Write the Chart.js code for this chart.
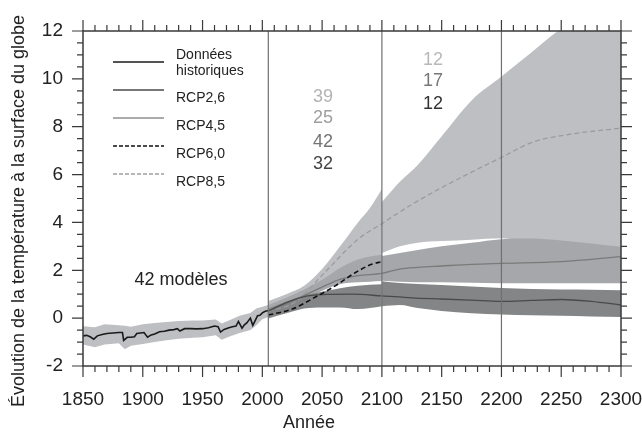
<!DOCTYPE html>
<html>
<head>
<meta charset="utf-8">
<script src="https://cdn.jsdelivr.net/npm/chart.js@4.4.0/dist/chart.umd.min.js"></script>
<style>
  html, body { margin: 0; padding: 0; background: #fff; }
</style>
</head>
<body>
<canvas id="chart" width="642" height="432"></canvas>
<script>
// historique (1850-2005)
const histYears = [1850,1853,1856,1859,1862,1866,1870,1875,1880,1883,1884,1887,1890,1893,1895,1898,1901,1904,1907,1910,1914,1918,1922,1926,1929,1931,1935,1940,1945,1950,1955,1960,1963,1965,1968,1972,1975,1978,1980,1983,1985,1987,1990,1992,1994,1996,1998,2000,2002,2005];
const histMean = [-0.74,-0.72,-0.78,-0.88,-0.74,-0.68,-0.64,-0.62,-0.6,-0.6,-0.93,-0.8,-0.8,-0.78,-0.64,-0.62,-0.6,-0.8,-0.7,-0.66,-0.57,-0.55,-0.5,-0.48,-0.44,-0.54,-0.44,-0.44,-0.45,-0.44,-0.4,-0.33,-0.36,-0.58,-0.47,-0.4,-0.36,-0.33,-0.14,-0.42,-0.28,-0.2,0.0,-0.3,-0.1,0.1,0.12,0.22,0.28,0.32];
const histBandYears = [1850,1860,1868,1880,1885,1890,1900,1910,1920,1930,1942,1950,1961,1966,1972,1981,1990,1995,2000,2005];
const histUpper = [-0.34,-0.38,-0.25,-0.3,-0.32,-0.36,-0.26,-0.2,-0.16,-0.12,-0.1,-0.1,-0.06,-0.22,-0.1,0.1,0.22,0.4,0.48,0.55];
const histLower = [-1.1,-1.22,-1.1,-1.05,-1.3,-1.15,-1.08,-1.0,-0.92,-0.86,-0.82,-0.8,-0.72,-0.9,-0.78,-0.62,-0.5,-0.3,-0.05,0.05];

// 2005-2100 (39 / 25 / 42 / 32 modeles)
const nearYears = [2005, 2020, 2035, 2050, 2065, 2080, 2090, 2100];
const rcp85NearUpper = [0.72, 1.0, 1.35, 2.05, 3.0, 4.0, 4.6, 5.4];
const rcp85NearLower = [0.05, 0.55, 0.9, 1.25, 1.5, 1.6, 1.62, 1.65];
const rcp45NearUpper = [0.55, 0.85, 1.2, 1.6, 2.1, 2.45, 2.58, 2.65];
const rcp45NearLower = [0.0, 0.45, 0.8, 1.15, 1.42, 1.5, 1.52, 1.55];
const rcp26NearUpper = [0.4, 0.7, 0.95, 1.1, 1.25, 1.35, 1.4, 1.42];
const rcp26NearLower = [-0.02, 0.2, 0.4, 0.45, 0.45, 0.38, 0.42, 0.5];

// 2100-2300 (12 / 17 / 12 modeles)
const farYears = [2100, 2115, 2130, 2150, 2175, 2200, 2225, 2250, 2275, 2300];
const rcp85FarUpper = [4.85, 5.7, 6.4, 7.6, 9.1, 10.1, 11.1, 12.1, 12.8, 13.3];
const rcp85FarLower = [2.72, 3.0, 3.15, 3.22, 3.28, 3.34, 3.2, 3.1, 3.0, 2.9];
const rcp45FarUpper = [2.6, 2.72, 2.85, 3.0, 3.15, 3.3, 3.33, 3.25, 3.12, 2.98];
const rcp45FarLower = [1.56, 1.52, 1.5, 1.5, 1.48, 1.46, 1.46, 1.46, 1.46, 1.46];
const rcp26FarUpper = [1.54, 1.47, 1.43, 1.38, 1.32, 1.26, 1.22, 1.2, 1.19, 1.17];
const rcp26FarLower = [0.5, 0.55, 0.42, 0.3, 0.2, 0.15, 0.12, 0.1, 0.07, 0.05];

// moyennes multi-modeles
const rcp26Years = [2005, 2020, 2035, 2050, 2075, 2100, 2125, 2150, 2175, 2200, 2225, 2250, 2275, 2300];
const rcp26Mean = [0.3, 0.65, 0.9, 0.98, 1.0, 0.93, 0.85, 0.8, 0.75, 0.7, 0.74, 0.78, 0.7, 0.55];
const rcp45Years = [2005, 2020, 2035, 2050, 2065, 2080, 2100, 2115, 2130, 2150, 2175, 2200, 2250, 2300];
const rcp45Mean = [0.3, 0.6, 0.95, 1.3, 1.62, 1.78, 1.87, 2.05, 2.12, 2.18, 2.25, 2.29, 2.36, 2.57];
const rcp60Years = [2005, 2025, 2044, 2061, 2078, 2092, 2100];
const rcp60Mean = [0.13, 0.38, 0.87, 1.35, 1.91, 2.26, 2.36];
const rcp85Years = [2005, 2027, 2053, 2080, 2100, 2125, 2148, 2175, 2200, 2226, 2254, 2300];
const rcp85Mean = [0.3, 0.66, 1.95, 3.3, 3.95, 4.75, 5.4, 6.1, 6.72, 7.35, 7.66, 7.94];

const dividerYears = [2005, 2100, 2200];
const legendLabels = [['Données', 'historiques'], ['RCP2,6'], ['RCP4,5'], ['RCP6,0'], ['RCP8,5']];
const nearCounts = ['39', '25', '42', '32'];
const farCounts = ['12', '17', '12'];

const FONT = 'Liberation Sans, Arial, sans-serif';
const LIGHT = '#bebfc2', MEDIUM = '#a6a7aa', DARK = '#848587';

const pts = (xs, ys) => xs.map((x, i) => ({ x, y: ys[i] }));

function band(years, lower, upper, color, order, mode) {
  const base = { showLine: true, pointRadius: 0, borderWidth: 1, borderColor: 'rgba(0,0,0,0)', order, cubicInterpolationMode: mode, tension: 0 };
  return [
    Object.assign({}, base, { data: pts(years, lower), fill: false }),
    Object.assign({}, base, { data: pts(years, upper), fill: '-1', backgroundColor: color })
  ];
}

function line(years, values, color, width, dash, order, mode) {
  return { data: pts(years, values), showLine: true, pointRadius: 0, borderColor: color, borderWidth: width,
    borderDash: dash, fill: false, order, cubicInterpolationMode: mode, tension: 0 };
}

const datasets = [].concat(
  band(histBandYears, histLower, histUpper, LIGHT, 20, 'default'),
  band(nearYears, rcp85NearLower, rcp85NearUpper, LIGHT, 19, 'monotone'),
  band(farYears, rcp85FarLower, rcp85FarUpper, LIGHT, 19, 'monotone'),
  band(nearYears, rcp45NearLower, rcp45NearUpper, MEDIUM, 18, 'monotone'),
  band(farYears, rcp45FarLower, rcp45FarUpper, MEDIUM, 18, 'monotone'),
  band(nearYears, rcp26NearLower, rcp26NearUpper, DARK, 17, 'monotone'),
  band(farYears, rcp26FarLower, rcp26FarUpper, DARK, 17, 'monotone'),
  [
    line(rcp85Years, rcp85Mean, '#9c9c9c', 1.3, [5, 3], 4, 'monotone'),
    line(rcp45Years, rcp45Mean, '#7a7a7a', 1.3, [], 3, 'monotone'),
    line(rcp26Years, rcp26Mean, '#4a4a4a', 1.3, [], 2, 'monotone'),
    line(rcp60Years, rcp60Mean, '#111', 1.6, [5, 3], 1, 'monotone'),
    line(histYears, histMean, '#1a1a1a', 1.6, [], 0, 'default')
  ]
);

// cadre, graduations, separateurs
const framePlugin = {
  id: 'framePlugin',
  afterDatasetsDraw(chart) {
    const { ctx, chartArea: a, scales: { x, y } } = chart;
    ctx.save();
    ctx.strokeStyle = '#707070';
    ctx.lineWidth = 1.2;
    dividerYears.forEach(yr => {
      const px = x.getPixelForValue(yr);
      ctx.beginPath(); ctx.moveTo(px, a.top); ctx.lineTo(px, a.bottom); ctx.stroke();
    });
    ctx.strokeStyle = '#3a3a3a';
    ctx.lineWidth = 1.5;
    ctx.strokeRect(a.left, a.top, a.right - a.left, a.bottom - a.top);
    ctx.lineWidth = 1.2;
    ctx.beginPath();
    for (let v = 1850; v <= 2300; v += 10) {
      const px = x.getPixelForValue(v);
      const len = v % 50 === 0 ? 11 : 6;
      ctx.moveTo(px, a.bottom); ctx.lineTo(px, a.bottom + len);
      ctx.moveTo(px, a.top); ctx.lineTo(px, a.top - len);
    }
    for (let v = -2; v <= 12; v += 0.5) {
      const py = y.getPixelForValue(v);
      const len = v % 2 === 0 ? 11 : 6;
      ctx.moveTo(a.left, py); ctx.lineTo(a.left - len, py);
      ctx.moveTo(a.right, py); ctx.lineTo(a.right + len, py);
    }
    ctx.stroke();
    ctx.restore();
  },
  afterDraw(chart) {
    const { ctx } = chart;
    ctx.save();
    // legende
    const styles = [
      { c: '#1a1a1a', w: 1.6, d: [] },
      { c: '#4a4a4a', w: 1.3, d: [] },
      { c: '#8f8f8f', w: 1.3, d: [] },
      { c: '#111', w: 1.6, d: [4, 2] },
      { c: '#a0a0a0', w: 1.3, d: [4, 2] }
    ];
    const lineY = [62, 90, 118, 146, 174];
    ctx.font = '14px ' + FONT;
    ctx.textBaseline = 'middle';
    ctx.textAlign = 'left';
    legendLabels.forEach((lab, i) => {
      const s = styles[i];
      ctx.strokeStyle = s.c; ctx.lineWidth = s.w; ctx.setLineDash(s.d);
      ctx.beginPath(); ctx.moveTo(113, lineY[i]); ctx.lineTo(164, lineY[i]); ctx.stroke();
      ctx.fillStyle = '#222';
      if (lab.length === 2) {
        ctx.fillText(lab[0], 176, 55);
        ctx.fillText(lab[1], 176, 71);
      } else {
        ctx.fillText(lab[0], 176, lineY[i] + 8);
      }
    });
    ctx.setLineDash([]);
    // nombre de modeles
    ctx.font = '18px ' + FONT;
    ctx.textAlign = 'center';
    const nearColors = ['#b3b3b3', '#9e9e9e', '#747474', '#444'];
    const nearY = [97, 118, 142, 164];
    nearCounts.forEach((t, i) => { ctx.fillStyle = nearColors[i]; ctx.fillText(t, 323, nearY[i]); });
    const farColors = ['#b8b8b8', '#777', '#333'];
    const farY = [60, 81, 104];
    farCounts.forEach((t, i) => { ctx.fillStyle = farColors[i]; ctx.fillText(t, 433, farY[i]); });
    ctx.fillStyle = '#222';
    ctx.fillText('42 modèles', 181, 280);
    // titres des axes
    ctx.fillText('Année', 309, 423);
    ctx.translate(23.5, 211);
    ctx.rotate(-Math.PI / 2);
    ctx.textBaseline = 'alphabetic';
    ctx.fillText('Évolution de la température à la surface du globe', 0, 0);
    ctx.restore();
  }
};

new Chart(document.getElementById('chart'), {
  type: 'scatter',
  data: { datasets },
  options: {
    responsive: false,
    animation: false,
    devicePixelRatio: 1,
    layout: { padding: { top: 31, right: 21, bottom: 0, left: 0 } },
    plugins: { legend: { display: false }, tooltip: { enabled: false } },
    scales: {
      x: {
        type: 'linear', min: 1850, max: 2300,
        grid: { display: false, drawTicks: false },
        border: { display: false },
        ticks: { stepSize: 50, padding: 22, color: '#222', font: { family: FONT, size: 19 }, callback: v => String(v) },
        afterFit: s => { s.height = 66; s.paddingLeft = 0; s.paddingRight = 0; }
      },
      y: {
        type: 'linear', min: -2, max: 12,
        grid: { display: false, drawTicks: false },
        border: { display: false },
        ticks: { stepSize: 2, padding: 20, color: '#222', font: { family: FONT, size: 19 }, callback: v => String(v) },
        afterFit: s => { s.width = 83; s.paddingTop = 0; s.paddingBottom = 0; }
      }
    }
  },
  plugins: [framePlugin]
});
</script>
</body>
</html>
